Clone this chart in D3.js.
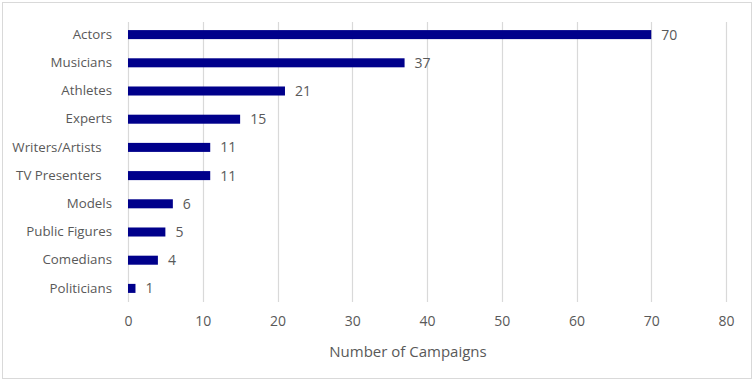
<!DOCTYPE html>
<html>
<head>
<meta charset="utf-8">
<script src="https://cdn.jsdelivr.net/npm/d3@7"></script>
<style>
  html, body { margin: 0; padding: 0; background: #fff; }
  svg { display: block; }
  text { font-family: "Open Sans", sans-serif; fill: #595959; white-space: pre; }
</style>
</head>
<body>
<svg id="chart" width="754" height="381"></svg>
<script>
const categories = ["Actors", "Musicians", "Athletes", "Experts", "Writers/Artists   ", "TV Presenters   ", "Models", "Public Figures", "Comedians", "Politicians"];
const values = [70, 37, 21, 15, 11, 11, 6, 5, 4, 1];
const xTicks = [0, 10, 20, 30, 40, 50, 60, 70, 80];
const axisTitle = "Number of Campaigns";

const svg = d3.select("#chart");
svg.append("rect").attr("x", 2.5).attr("y", 2.5).attr("width", 749).attr("height", 376)
  .attr("fill", "#fff").attr("stroke", "#d9d9d9").attr("stroke-width", 1);

const x = d3.scaleLinear().domain([0, 80]).range([128, 726]);
const y = d3.scaleBand().domain(categories).range([20.5, 302.5]).paddingInner(0.68).paddingOuter(0.34);

// gridlines
svg.append("g").selectAll("line").data(xTicks).join("line")
  .attr("x1", d => Math.round(x(d)) + 0.5).attr("x2", d => Math.round(x(d)) + 0.5)
  .attr("y1", 22).attr("y2", 302)
  .attr("stroke", "#d9d9d9").attr("stroke-width", 1.2);

// x axis tick labels
const xAxis = d3.axisBottom(x).tickValues(xTicks).tickSize(0).tickPadding(0);
const gx = svg.append("g").attr("transform", "translate(0,316)").call(xAxis);
gx.select(".domain").remove();
gx.selectAll("text").attr("font-size", "14px").attr("font-family", "Open Sans, sans-serif").attr("fill", "#595959").attr("dy", "0.71em");

// y axis labels
const yAxis = d3.axisLeft(y).tickSize(0).tickPadding(16);
const gy = svg.append("g").attr("transform", "translate(128,0)").call(yAxis);
gy.select(".domain").remove();
gy.selectAll("text").attr("font-size", "13.3px").attr("font-family", "Open Sans, sans-serif").attr("fill", "#595959");

// bars
svg.append("g").selectAll("rect").data(categories).join("rect")
  .attr("x", x(0))
  .attr("y", d => y(d))
  .attr("width", (d, i) => x(values[i]) - x(0))
  .attr("height", y.bandwidth())
  .attr("fill", "#00008b");

// value labels
svg.append("g").selectAll("text").data(categories).join("text")
  .attr("x", (d, i) => x(values[i]) + 10)
  .attr("y", d => y(d) + y.bandwidth() / 2)
  .attr("dy", "0.35em")
  .attr("font-size", "14px")
  .text((d, i) => values[i]);

// axis title
svg.append("text").attr("x", 408).attr("y", 352).attr("dy", "0.35em")
  .attr("text-anchor", "middle").attr("font-size", "15px").text(axisTitle);
</script>
</body>
</html>
